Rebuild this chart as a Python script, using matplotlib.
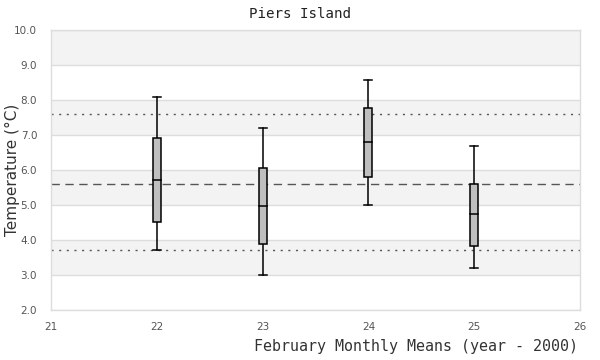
import matplotlib
matplotlib.use("Agg")
import matplotlib.pyplot as plt
from matplotlib.patches import Rectangle

years = [22, 23, 24, 25]
whisker_low = [3.71, 3.0, 4.99, 3.19]
q1 = [4.51, 3.88, 5.79, 3.83]
median = [5.71, 4.96, 6.79, 4.73]
q3 = [6.91, 6.07, 7.78, 5.61]
whisker_high = [8.10, 7.19, 8.58, 6.69]
mean_line = 5.6
sd_low = 3.71
sd_high = 7.59
xticks = [21, 22, 23, 24, 25, 26]
yticks = [2.0, 3.0, 4.0, 5.0, 6.0, 7.0, 8.0, 9.0, 10.0]

fig = plt.figure(figsize=(6, 3.6), dpi=100)
ax = fig.add_axes([51/600, 1-310/360, (580-51)/600, 280/360])
ax.set_xlim(21, 26)
ax.set_ylim(2, 10)

# alternating bands
for i, y0 in enumerate(yticks[:-1]):
    if i % 2 == 1:
        ax.axhspan(y0, y0 + 1, color="#f3f3f3", zorder=0, lw=0)
for y in yticks:
    ax.axhline(y, color="#dddddd", lw=1, zorder=1)

ax.axhline(mean_line, color="#555555", lw=1, ls=(0, (6, 4)), zorder=2)
ax.axhline(sd_low, color="#555555", lw=1, ls=(0, (1.5, 4)), zorder=2)
ax.axhline(sd_high, color="#555555", lw=1, ls=(0, (1.5, 4)), zorder=2)

w = 0.076
for x, lo, a, m, b, hi in zip(years, whisker_low, q1, median, q3, whisker_high):
    ax.plot([x, x], [lo, a], color="black", lw=1.1, zorder=3)
    ax.plot([x, x], [b, hi], color="black", lw=1.1, zorder=3)
    ax.plot([x - w/2, x + w/2], [lo, lo], color="black", lw=1.1, zorder=3)
    ax.plot([x - w/2, x + w/2], [hi, hi], color="black", lw=1.1, zorder=3)
    ax.add_patch(Rectangle((x - w/2, a), w, b - a, facecolor="#bfbfbf",
                           edgecolor="black", lw=1.1, zorder=4))
    ax.plot([x - w/2, x + w/2], [m, m], color="black", lw=1.1, zorder=5)

ax.set_xticks(xticks)
ax.set_xticklabels([str(t) for t in xticks])
ax.set_yticks(yticks)
ax.set_yticklabels([f"{t:.1f}" for t in yticks])
ax.tick_params(length=0, labelsize=7.5, colors="#555555")
ax.tick_params(axis="x", pad=9)
ax.tick_params(axis="y", pad=10)
for s in ax.spines.values():
    s.set_color("#dddddd")
    s.set_linewidth(1)

fig.text(300/600, 1-14/360, "Piers Island", ha="center", va="center",
         family="DejaVu Sans Mono", fontsize=10.2, color="#222222")
fig.text(578/600, 1-347/360, "February Monthly Means (year - 2000)", ha="right",
         va="center", family="DejaVu Sans Mono", fontsize=10.8, color="#333333")
fig.text(12/600, 1-170/360, "Temperature (°C)", ha="center", va="center",
         rotation=90, fontsize=11, color="#333333")

fig.savefig("out.png", dpi=100)
